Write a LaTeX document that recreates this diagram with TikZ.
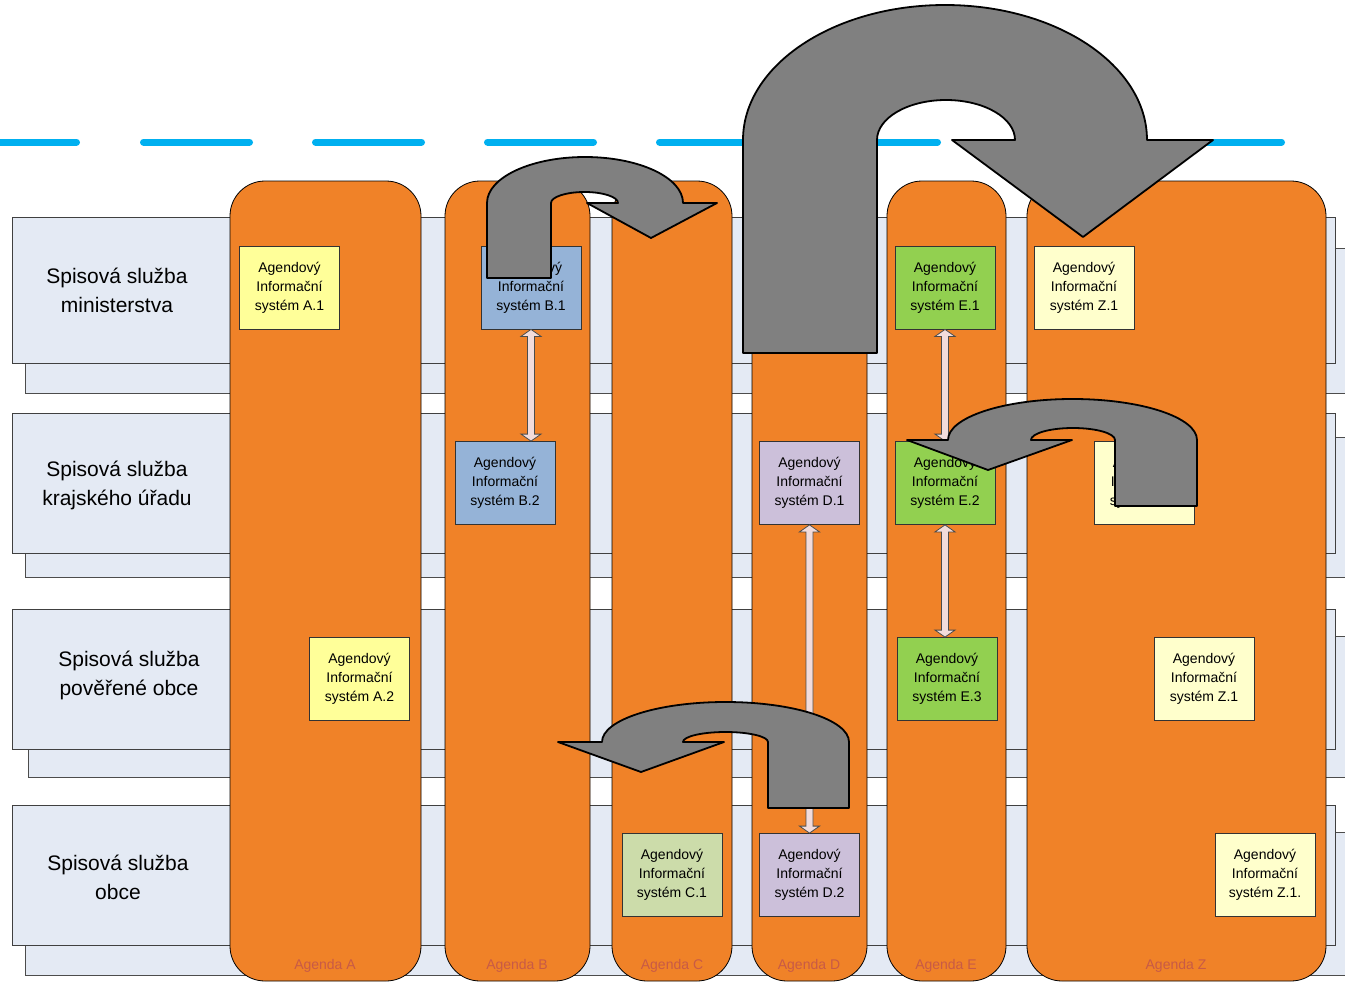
\documentclass[tikz,border=0pt]{standalone}
\usepackage{fontspec}
\setmainfont{Liberation Sans}
\usetikzlibrary{calc}

\definecolor{rowfill}{RGB}{228,234,244}
\definecolor{agendaorange}{RGB}{240,130,40}
\definecolor{agendared}{RGB}{200,90,70}
\definecolor{sysyellow}{RGB}{255,255,153}
\definecolor{syspale}{RGB}{255,255,204}
\definecolor{sysblue}{RGB}{149,179,215}
\definecolor{sysolive}{RGB}{204,220,170}
\definecolor{syslilac}{RGB}{204,192,218}
\definecolor{sysgreen}{RGB}{146,208,80}
\definecolor{linkpink}{RGB}{242,220,219}
\definecolor{turngray}{RGB}{128,128,128}
\definecolor{dashblue}{RGB}{0,176,240}

\begin{document}
\begin{tikzpicture}[x=1pt,y=-1pt]
    \tikzstyle{rowback}=[draw=black!70,fill=rowfill,line width=0.8pt]
    \tikzstyle{rowfront}=[draw=black!75,fill=rowfill,line width=0.8pt]
    \tikzstyle{rowlabel}=[align=center,font=\fontsize{21}{29}\selectfont]
    \tikzstyle{column}=[draw=black,fill=agendaorange,line width=0.8pt,rounded corners=35pt]
    \tikzstyle{agenda}=[text=agendared,font=\fontsize{14}{17}\selectfont]
    \tikzstyle{system}=[draw=black!80,line width=0.8pt,inner sep=0pt,minimum width=100pt,minimum height=83pt,align=center,font=\fontsize{14}{19}\selectfont]
    \tikzstyle{link}=[draw=black!70,fill=linkpink,line width=0.8pt,line join=miter]
    \tikzstyle{turn}=[draw=black,fill=turngray,line width=1.8pt,line join=round]
    \tikzstyle{dashline}=[draw=dashblue,line width=7pt,line cap=round]

    \useasboundingbox (0,0) rectangle (1345,982);

    % blue dashed border
    \draw[dashline] (0,142) -- (76.5,142);
    \foreach \x in {140,312,...,1172}
        \draw[dashline] (\x+3.5,142) -- (\x+109.5,142);

    % levels
    \draw[rowback]  (25,248) rectangle (1350,393);
    \draw[rowfront] (12,217) rectangle (1335,363);
    \draw[rowback]  (25,437) rectangle (1350,577);
    \draw[rowfront] (12,413) rectangle (1335,553);
    \draw[rowback]  (28,636) rectangle (1350,777);
    \draw[rowfront] (12,609) rectangle (1335,749);
    \draw[rowback]  (25,832) rectangle (1350,975);
    \draw[rowfront] (12,805) rectangle (1335,945);

    \node (minis)[rowlabel] at (117,290) {Spisová služba\\ministerstva};
    \node (kraj)[rowlabel]  at (117,485) {Spisová služba\\krajského úřadu};
    \node (pover)[rowlabel] at (129,675) {Spisová služba\\pověřené obce};
    \node (obec)[rowlabel]  at (118,877) {Spisová služba\\obce};

    % agendas
    \draw[column] (230,181) rectangle (421,981);
    \draw[column] (445,181) rectangle (590,981);
    \draw[column] (612,181) rectangle (732,981);
    \draw[column] (752,181) rectangle (867,981);
    \draw[column] (887,181) rectangle (1006,981);
    \draw[column] (1027,181) rectangle (1326,981);

    \node (agA)[agenda] at (325,966) {Agenda A};
    \node (agB)[agenda] at (517,966) {Agenda B};
    \node (agC)[agenda] at (672,966) {Agenda C};
    \node (agD)[agenda] at (809,966) {Agenda D};
    \node (agE)[agenda] at (946,966) {Agenda E};
    \node (agZ)[agenda] at (1176,966) {Agenda Z};

    % information systems
    \node (a1)[system,fill=sysyellow] at (289.5,287.5) {Agendový\\Informační\\systém A.1};
    \node (a2)[system,fill=sysyellow] at (359.5,679) {Agendový\\Informační\\systém A.2};
    \node (b1)[system,fill=sysblue]   at (531,287.5) {Agendový\\Informační\\systém B.1};
    \node (b2)[system,fill=sysblue]   at (505,483) {Agendový\\Informační\\systém B.2};
    \node (c1)[system,fill=sysolive]  at (672,875) {Agendový\\Informační\\systém C.1};
    \node (d1)[system,fill=syslilac]  at (809.5,483) {Agendový\\Informační\\systém D.1};
    \node (d2)[system,fill=syslilac]  at (809.5,875) {Agendový\\Informační\\systém D.2};
    \node (e1)[system,fill=sysgreen]  at (945,287.5) {Agendový\\Informační\\systém E.1};
    \node (e2)[system,fill=sysgreen]  at (945,483) {Agendový\\Informační\\systém E.2};
    \node (e3)[system,fill=sysgreen]  at (947,679) {Agendový\\Informační\\systém E.3};
    \node (z1)[system,fill=syspale]   at (1084,287.5) {Agendový\\Informační\\systém Z.1};
    \node (z2)[system,fill=syspale]   at (1144,483) {Agendový\\Informační\\systém Z.1};
    \node (z3)[system,fill=syspale]   at (1204,679) {Agendový\\Informační\\systém Z.1};
    \node (z4)[system,fill=syspale]   at (1265,875) {Agendový\\Informační\\systém Z.1.};

    % two-way links
    \foreach \u/\v in {b1/b2,d1/d2,e1/e2,e2/e3}
        \draw[link] let \p1=(\u.south), \p2=(\v.north) in
            (\x1,\y1) -- ++(10pt,-7pt) -- ++(-6.5pt,0pt) -- (\x1+3.5pt,\y2+7pt)
            -- ++(6.5pt,0pt) -- (\x1,\y2) -- ++(-10pt,7pt) -- ++(6.5pt,0pt)
            -- (\x1-3.5pt,\y1-7pt) -- ++(-6.5pt,0pt) -- cycle;

    % u-turn arrows
    \draw[turn] (487,278) -- (487,203) arc[start angle=180,end angle=360,x radius=98,y radius=46]
        -- (717,203) -- (651,238) -- (587,203) -- (618,203)
        arc[start angle=0,end angle=-180,x radius=33.5,y radius=11] -- (551,278) -- cycle;
    \draw[turn] (743,353) -- (743,140) arc[start angle=180,end angle=360,x radius=202,y radius=135]
        -- (1213,140) -- (1083,237) -- (952,140) -- (1015,140)
        arc[start angle=0,end angle=-180,x radius=69,y radius=40] -- (877,353) -- cycle;
    \draw[turn] (1197,506) -- (1197,440) arc[start angle=0,end angle=-180,x radius=124.5,y radius=41]
        -- (907,440) -- (988,470) -- (1072,440) -- (1031,440)
        arc[start angle=180,end angle=360,x radius=42,y radius=12] -- (1115,506) -- cycle;
    \draw[turn] (849,808) -- (849,742) arc[start angle=0,end angle=-180,x radius=123.5,y radius=40]
        -- (558,742) -- (641,772) -- (724,742) -- (683,742)
        arc[start angle=180,end angle=360,x radius=42.5,y radius=10] -- (768,808) -- cycle;
\end{tikzpicture}
\end{document}
